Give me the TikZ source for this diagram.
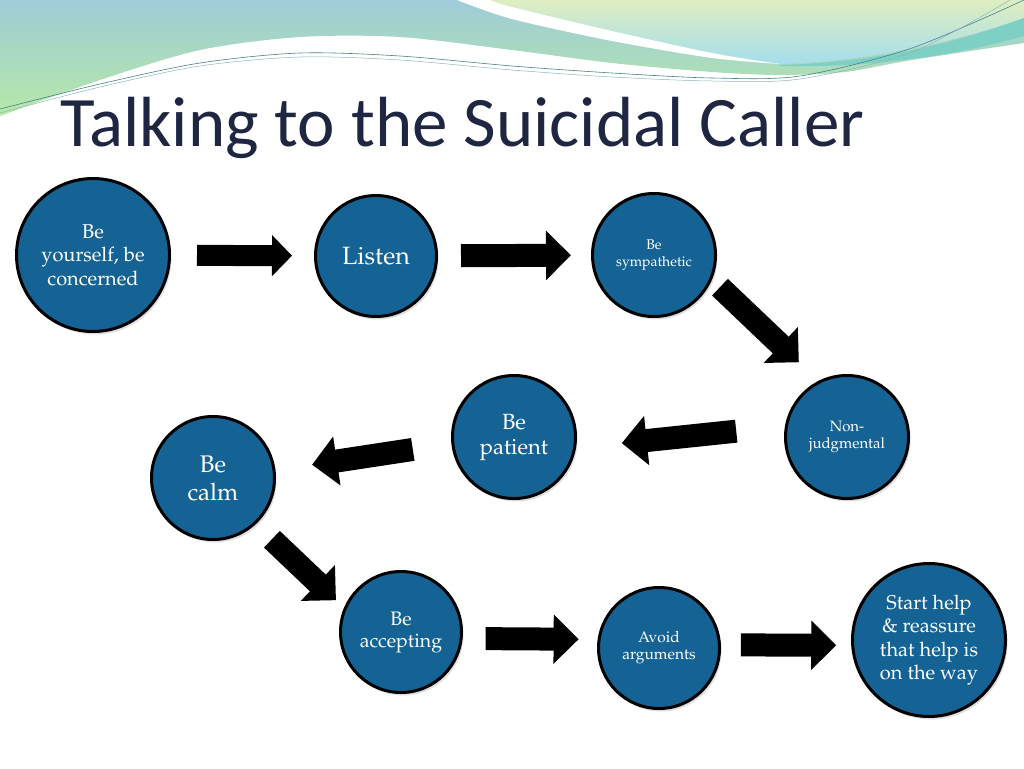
\documentclass[tikz,border=0pt]{standalone}
\usepackage[T1]{fontenc}
\usepackage{fontspec}
\newfontfamily\titlefont{Carlito}
\newcommand\circlefont{\fontencoding{T1}\fontfamily{ppl}\selectfont}
\usepackage{tikz}
\usetikzlibrary{arrows.meta, shadows}
\usepackage{xcolor}

\definecolor{stepblue}{RGB}{21,99,148}
\definecolor{titlenavy}{RGB}{30,38,66}
\definecolor{swooshblue}{RGB}{158,204,216}
\definecolor{swooshgreen}{RGB}{182,232,166}
\definecolor{swooshlime}{RGB}{222,238,192}
\definecolor{swooshsky}{RGB}{165,222,236}
\definecolor{swooshteal}{RGB}{125,208,195}
\definecolor{swooshline}{RGB}{70,130,140}

\tikzset{
    stepcircle/.style={circle, draw=black, line width=3pt, fill=stepblue,
        text=white, align=center, inner sep=0pt,
        drop shadow={shadow xshift=2pt, shadow yshift=-3pt, opacity=0.25}},
    fatarrow/.style={black, line width=23pt, -{Triangle[width=48pt, length=25pt]}},
}

\begin{document}
\begin{tikzpicture}[x=1pt, y=-1pt]

    \useasboundingbox (0,0) rectangle (1024,768);
    \fill[white] (0,0) rectangle (1024,768);

    % Swooshes along the top
    \shade[top color=swooshblue, bottom color=swooshgreen]
        (0,0) -- plot[smooth] coordinates {(0,116) (100,80) (200,50) (300,37) (400,37)
        (512,50) (612,63) (712,72) (780,75) (845,72) (912,60) (1024,43)} -- (1024,0) -- cycle;
    \shade[top color=swooshlime, bottom color=swooshsky]
        (490,0) -- plot[smooth] coordinates {(490,0) (512,7) (612,31) (712,53) (780,64)}
        .. controls (880,60) and (960,40) .. (1024,18) -- (1024,0) -- cycle;
    \fill[swooshteal] (780,65) .. controls (880,62) and (960,42) .. (1024,18)
        -- (1024,36) .. controls (960,54) and (880,68) .. (780,66) -- cycle;
    \fill[white] plot[smooth] coordinates {(457,0) (512,19) (612,41) (712,58) (780,64)}
        -- plot[smooth] coordinates {(780,64) (712,53) (612,31) (512,7) (490,0)} -- cycle;
    \draw[swooshline, line width=0.6pt] plot[smooth] coordinates {(0,109) (100,84) (200,63)
        (300,53) (400,56) (512,66) (612,73) (712,78) (800,76) (912,48) (1024,0)};
    \draw[swooshline!60, line width=0.5pt] plot[smooth] coordinates {(0,113) (100,87) (200,66)
        (300,57) (400,60) (512,70) (612,77) (712,81) (800,79) (912,52) (1010,0)};

    % Title
    \node[anchor=base west, inner sep=0pt, text=titlenavy,
        font=\titlefont\fontsize{71}{86}\selectfont] (title) at (60,146)
        {Talking to the Suicidal Caller};

    % Steps
    \node[stepcircle, minimum size=153pt, font=\circlefont\fontsize{20}{23.5}\selectfont]
        (yourself) at (93,255) {Be\\yourself, be\\concerned};
    \node[stepcircle, minimum size=121pt, font=\circlefont\fontsize{25}{30}\selectfont]
        (listen) at (376,256) {Listen};
    \node[stepcircle, minimum size=123pt, font=\circlefont\fontsize{14}{17}\selectfont]
        (sympathetic) at (654,255) {Be\\sympathetic};
    \node[stepcircle, minimum size=123pt, font=\circlefont\fontsize{15}{17}\selectfont]
        (nonjudg) at (847,437) {Non-\\judgmental};
    \node[stepcircle, minimum size=123pt, font=\circlefont\fontsize{22}{25}\selectfont]
        (patient) at (514,437) {Be\\patient};
    \node[stepcircle, minimum size=123pt, font=\circlefont\fontsize{24}{28}\selectfont]
        (calm) at (213,478) {Be\\calm};
    \node[stepcircle, minimum size=121pt, font=\circlefont\fontsize{19.5}{22}\selectfont]
        (accepting) at (401,632) {Be\\accepting};
    \node[stepcircle, minimum size=121pt, font=\circlefont\fontsize{15.5}{17}\selectfont]
        (avoid) at (659,648) {Avoid\\arguments};
    \node[stepcircle, minimum size=153pt, font=\circlefont\fontsize{20}{23.5}\selectfont]
        (starthelp) at (929,640) {Start help\\\& reassure\\that help is\\on the way};

    % Arrows between the steps
    \draw[black, line width=21pt, -{Triangle[width=40pt, length=20pt]},
        shorten <=26pt, shorten >=22pt] (yourself) -- (listen);
    \draw[fatarrow, shorten <=23pt, shorten >=20pt] (listen) -- (sympathetic);
    \draw[fatarrow, shorten <=11pt, shorten >=27pt] (sympathetic.-23) -- (nonjudg.117);
    \draw[fatarrow, shorten <=49pt, shorten >=46pt] (nonjudg.170) -- (patient.-10);
    \draw[fatarrow, shorten <=39pt, shorten >=37pt] (patient.186) -- (calm.7);
    \draw[fatarrow, shorten <=22pt, shorten >=11pt] (calm.-47) -- (accepting.157);
    \draw[fatarrow, shorten <=23pt, shorten >=19pt] (accepting.-6) -- (avoid.172);
    \draw[fatarrow, shorten <=20pt, shorten >=15pt] (avoid.3) -- (starthelp.184);

\end{tikzpicture}
\end{document}
